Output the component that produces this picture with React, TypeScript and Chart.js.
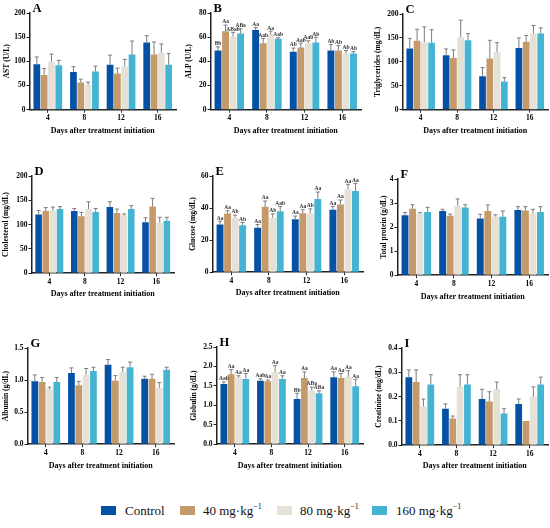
import React, { useEffect, useRef } from "react";
import { Chart, registerables } from "chart.js";

Chart.register(...registerables);

const days = ["4", "8", "12", "16"];
const groups = ["Control", "40 mg·kg⁻¹", "80 mg·kg⁻¹", "160 mg·kg⁻¹"];
const groupColors = ["#0451A6", "#C49A6B", "#E6E1D7", "#45B4D2"];
const xTitle = "Days after treatment initiation";

// A: AST (U/L) — rows: Control, 40, 80, 160; columns: day 4, 8, 12, 16
const astMean = [
  [94, 78, 93, 139],
  [72, 56, 75, 114],
  [99, 51, 90, 118],
  [92, 79, 114, 93],
];
const astSd = [
  [15, 11, 20, 14],
  [13, 7, 11, 26],
  [16, 6, 14, 18],
  [10, 11, 28, 23],
];

// B: ALP (U/L)
const alpMean = [
  [49, 66, 48, 49],
  [65, 55, 51.4, 49],
  [60.5, 62, 55, 46.4],
  [63, 58.6, 55.5, 46.4],
];
const alpSd = [
  [3, 2, 3, 5],
  [5, 4, 3.6, 4],
  [3.5, 3, 2, 2.6],
  [4, 1, 4.5, 1.6],
];
const alpLetters = [
  ["Bb", "Aa", "Ab", "Ab"],
  ["Aa", "Aab", "Aab", "Ab"],
  ["ABab", "Aa", "Aab", "Ab"],
  ["ABa", "Aab", "Ab", "Ab"],
];

// C: Triglycerides (mg/dL)
const tgMean = [
  [128, 114, 70, 129],
  [144, 108, 107, 142],
  [141, 152, 120, 159],
  [140, 145, 59, 159],
];
const tgSd = [
  [21, 13, 18, 21],
  [24, 17, 38, 13],
  [32, 35, 20, 17],
  [27, 14, 8, 12],
];

// D: Cholesterol (mg/dL)
const cholMean = [
  [121, 128, 136, 105],
  [128, 117, 124, 137],
  [129, 132, 119, 104],
  [132, 126, 132, 108],
];
const cholSd = [
  [8, 5, 11, 9],
  [7, 8, 8, 17],
  [7, 15, 3, 11],
  [5, 7, 7, 7],
];

// E: Glucose (mg/dL)
const gluMean = [
  [29.7, 27.8, 33, 38.9],
  [36.6, 40.8, 36.8, 42.3],
  [34, 34, 36.8, 51.7],
  [29.3, 38, 45.6, 50.6],
];
const gluSd = [
  [2.1, 1.9, 2, 2.1],
  [1.7, 3.6, 2.2, 2.7],
  [1.6, 2.4, 2.7, 3.1],
  [1.7, 3, 4.4, 4.8],
];
const gluLetters = [
  ["Aa", "Aa", "Aa", "Aa"],
  ["Aa", "Aa", "Aa", "Aa"],
  ["Ab", "Ab", "Ab", "Aa"],
  ["Ab", "Aab", "Aa", "Aa"],
];

// F: Total protein (g/dL)
const tpMean = [
  [2.49, 2.67, 2.36, 2.71],
  [2.76, 2.47, 2.67, 2.69],
  [2.56, 2.89, 2.44, 2.57],
  [2.63, 2.81, 2.43, 2.63],
];
const tpSd = [
  [0.12, 0.07, 0.17, 0.14],
  [0.17, 0.07, 0.25, 0.16],
  [0.04, 0.28, 0.07, 0.17],
  [0.19, 0.12, 0.24, 0.22],
];

// G: Albumin (g/dL)
const albMean = [
  [0.98, 1.11, 1.24, 1.02],
  [0.97, 0.92, 0.99, 1.02],
  [0.86, 1.08, 1.13, 0.88],
  [0.97, 1.14, 1.2, 1.16],
];
const albSd = [
  [0.1, 0.08, 0.08, 0.04],
  [0.07, 0.06, 0.08, 0.07],
  [0.03, 0.1, 0.07, 0.08],
  [0.07, 0.06, 0.08, 0.04],
];

// H: Globulin (g/dL)
const globMean = [
  [1.55, 1.63, 1.16, 1.72],
  [1.8, 1.62, 1.7, 1.7],
  [1.72, 1.86, 1.38, 1.73],
  [1.68, 1.68, 1.31, 1.49],
];
const globSd = [
  [0.05, 0.05, 0.15, 0.14],
  [0.12, 0.03, 0.16, 0.12],
  [0.04, 0.16, 0.09, 0.16],
  [0.14, 0.08, 0.06, 0.18],
];
const globLetters = [
  ["Aab", "Aab", "Bb", "Aa"],
  ["Aa", "Aa", "Aa", "Aa"],
  ["Aa", "Aa", "ABa", "Aa"],
  ["Aa", "Aa", "ABa", "Aa"],
];

// I: Creatinine (mg/dL)
const creaMean = [
  [0.28, 0.15, 0.19, 0.17],
  [0.26, 0.11, 0.18, 0.1],
  [0.16, 0.24, 0.23, 0.2],
  [0.25, 0.25, 0.13, 0.25],
];
const creaSd = [
  [0.03, 0.02, 0.04, 0.02],
  [0.05, 0.01, 0.04, 0],
  [0.03, 0.05, 0.03, 0.04],
  [0.04, 0.04, 0.02, 0.03],
];

type Panel = {
  letter: string;
  yTitle: string;
  mean: number[][];
  sd: number[][];
  labels?: string[][];
  max: number;
  step: number;
  decimals: number;
  // layout (pixel geometry of the plot frame)
  axisX: number;
  top: number;
  bottom: number;
  right: number;
  yTitleX: number;
  xTitleY: number;
};

const panels: Panel[] = [
  { letter: "A", yTitle: "AST (U/L)", mean: astMean, sd: astSd, max: 200, step: 50, decimals: 0, axisX: 29, top: 13, bottom: 109.5, right: 175, yTitleX: 7, xTitleY: 131 },
  { letter: "B", yTitle: "ALP (U/L)", mean: alpMean, sd: alpSd, labels: alpLetters, max: 80, step: 20, decimals: 0, axisX: 210, top: 13, bottom: 109.5, right: 360, yTitleX: 189, xTitleY: 131 },
  { letter: "C", yTitle: "Triglycerides (mg/dL)", mean: tgMean, sd: tgSd, max: 200, step: 50, decimals: 0, axisX: 402, top: 14, bottom: 109.5, right: 547, yTitleX: 378, xTitleY: 131 },
  { letter: "D", yTitle: "Cholesterol (mg/dL)", mean: cholMean, sd: cholSd, max: 200, step: 50, decimals: 0, axisX: 31, top: 176, bottom: 273, right: 173, yTitleX: 6, xTitleY: 294 },
  { letter: "E", yTitle: "Glucose (mg/dL)", mean: gluMean, sd: gluSd, labels: gluLetters, max: 60, step: 20, decimals: 0, axisX: 212, top: 176, bottom: 272, right: 362, yTitleX: 193, xTitleY: 293 },
  { letter: "F", yTitle: "Total protein (g/dL)", mean: tpMean, sd: tpSd, max: 4, step: 1, decimals: 0, axisX: 397, top: 179, bottom: 275, right: 547, yTitleX: 384, xTitleY: 297 },
  { letter: "G", yTitle: "Albumin (g/dL)", mean: albMean, sd: albSd, max: 1.5, step: 0.5, decimals: 1, axisX: 27, top: 348, bottom: 444, right: 173, yTitleX: 6, xTitleY: 466 },
  { letter: "H", yTitle: "Globulin (g/dL)", mean: globMean, sd: globSd, labels: globLetters, max: 2.5, step: 0.5, decimals: 1, axisX: 216, top: 347, bottom: 444, right: 362, yTitleX: 194, xTitleY: 466 },
  { letter: "I", yTitle: "Creatinine (mg/dL)", mean: creaMean, sd: creaSd, max: 0.4, step: 0.1, decimals: 1, axisX: 401, top: 348, bottom: 445, right: 547, yTitleX: 379, xTitleY: 466 },
];

const FONT = "'Liberation Serif', 'Times New Roman', serif";
const PAD_TOP = 14;
const PAD_RIGHT = 3;
const Y_TITLE_SIZE = 7.5;
const X_TITLE_SIZE = 8;

function geom(p: Panel) {
  const left = p.yTitleX - (Y_TITLE_SIZE * 1.2) / 2;
  const top = p.top - PAD_TOP;
  const bottomEdge = p.xTitleY + (X_TITLE_SIZE * 1.2) / 2;
  return {
    left,
    top,
    width: Math.round(p.right + PAD_RIGHT - left),
    height: Math.round(bottomEdge - top),
    yW: p.axisX - left,
    xH: bottomEdge - p.bottom,
  };
}

function PanelChart({ p }: { p: Panel }) {
  const ref = useRef<HTMLCanvasElement | null>(null);
  const g = geom(p);
  useEffect(() => {
    if (!ref.current) return;
    const errPlugin = {
      id: "errbars",
      afterDatasetsDraw(chart: any) {
        const ctx = chart.ctx;
        const yScale = chart.scales.y;
        ctx.save();
        chart.data.datasets.forEach((_ds: any, di: number) => {
          const meta = chart.getDatasetMeta(di);
          meta.data.forEach((bar: any, j: number) => {
            const v = p.mean[di][j];
            const s = p.sd[di][j];
            const yTop = yScale.getPixelForValue(v + s);
            const x = bar.x;
            if (s > 0) {
              ctx.strokeStyle = "#7d7d7d";
              ctx.lineWidth = 1;
              ctx.beginPath();
              ctx.moveTo(x, bar.y);
              ctx.lineTo(x, yTop);
              ctx.moveTo(x - 2, yTop);
              ctx.lineTo(x + 2, yTop);
              ctx.stroke();
            }
            if (p.labels) {
              ctx.fillStyle = "#333";
              ctx.font = `bold 5.5px ${FONT}`;
              ctx.textAlign = "center";
              ctx.textBaseline = "bottom";
              ctx.fillText(p.labels[di][j], x, yTop - 0.3);
            }
          });
        });
        // panel letter
        ctx.fillStyle = "#000";
        ctx.font = `bold 12.5px ${FONT}`;
        ctx.textAlign = "left";
        ctx.textBaseline = "alphabetic";
        ctx.fillText(p.letter, chart.chartArea.left + 3, chart.chartArea.top - 1.5);
        ctx.restore();
      },
    };
    const tickFont = { family: FONT, weight: "bold" as const, size: 7.5 };
    const chart = new Chart(ref.current, {
      type: "bar",
      data: {
        labels: days,
        datasets: groups.map((name, i) => ({
          label: name,
          data: p.mean[i],
          backgroundColor: groupColors[i],
          borderWidth: 0,
          categoryPercentage: 0.8,
          barPercentage: 0.92,
        })),
      },
      options: {
        responsive: false,
        animation: false,
        events: [],
        layout: { padding: { top: PAD_TOP, right: PAD_RIGHT, left: 0, bottom: 0 } },
        plugins: {
          legend: { display: false },
          tooltip: { enabled: false },
          title: { display: false },
        },
        scales: {
          x: {
            type: "category",
            offset: true,
            grid: { offset: false, drawOnChartArea: false, drawTicks: true, tickLength: 3, color: "#222", lineWidth: 1 },
            border: { display: true, color: "#222", width: 1.5 },
            ticks: { color: "#000", font: tickFont, padding: 1, maxRotation: 0, autoSkip: false },
            title: { display: true, text: xTitle, color: "#000", font: { family: FONT, weight: "bold", size: X_TITLE_SIZE }, padding: 0 },
            afterFit: (s: any) => {
              s.height = g.xH;
            },
          },
          y: {
            min: 0,
            max: p.max,
            grid: { drawOnChartArea: false, drawTicks: true, tickLength: 3, color: "#222", lineWidth: 1 },
            border: { display: true, color: "#222", width: 1.5 },
            ticks: {
              stepSize: p.step,
              color: "#000",
              font: tickFont,
              padding: 1,
              callback: (v: any) => Number(v).toFixed(p.decimals),
            },
            title: { display: true, text: p.yTitle, color: "#000", font: { family: FONT, weight: "bold", size: Y_TITLE_SIZE }, padding: 0 },
            afterFit: (s: any) => {
              s.width = g.yW;
            },
          },
        },
      } as any,
      plugins: [errPlugin],
    });
    return () => chart.destroy();
  }, []);
  return (
    <canvas
      ref={ref}
      width={g.width}
      height={g.height}
      style={{ position: "absolute", left: g.left, top: g.top, width: g.width, height: g.height }}
    />
  );
}

const legendBoxX = [101, 180, 277, 372];
const legendTextX = [125, 203, 300, 396];

function Legend() {
  return (
    <>
      {groups.map((name, i) => {
        const parts = name.split("⁻¹");
        return (
          <React.Fragment key={name}>
            <div
              style={{
                position: "absolute",
                left: legendBoxX[i],
                top: 506,
                width: 15,
                height: 9,
                background: groupColors[i],
              }}
            />
            <div
              style={{
                position: "absolute",
                left: legendTextX[i],
                top: 502,
                height: 17,
                lineHeight: "17px",
                fontFamily: FONT,
                fontSize: 13,
                color: "#111",
                whiteSpace: "nowrap",
              }}
            >
              {parts[0]}
              {parts.length > 1 ? (
                <sup style={{ fontSize: 8, verticalAlign: "top", lineHeight: "10px", position: "relative", top: 0 }}>−1</sup>
              ) : null}
            </div>
          </React.Fragment>
        );
      })}
    </>
  );
}

export default function App() {
  return (
    <div
      style={{
        position: "absolute",
        left: 0,
        top: 0,
        width: 550,
        height: 528,
        background: "#fff",
        overflow: "hidden",
      }}
    >
      {panels.map((p) => (
        <PanelChart key={p.letter} p={p} />
      ))}
      <Legend />
    </div>
  );
}
